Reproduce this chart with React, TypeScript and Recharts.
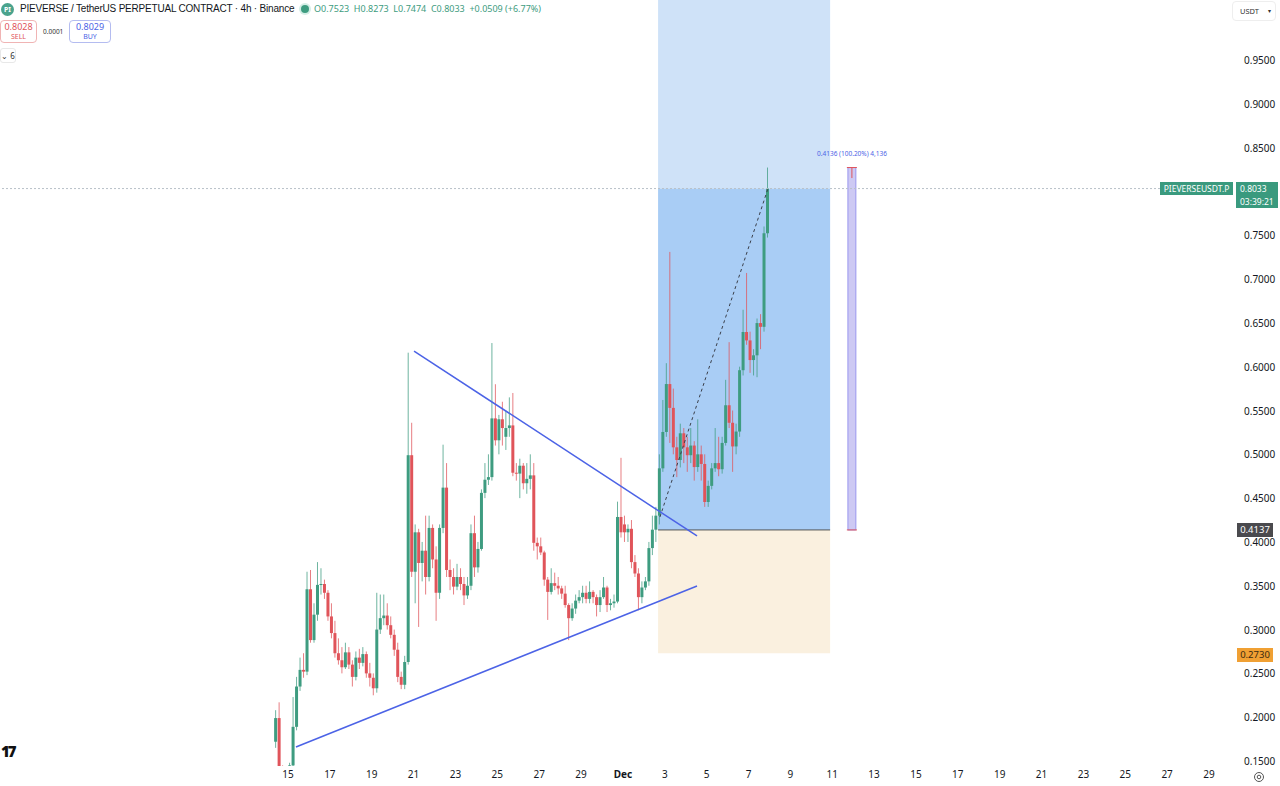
import React from 'react';
import { ComposedChart, Bar, XAxis, YAxis, ReferenceArea, ReferenceLine } from 'recharts';

// 4h candles: open, high, low, close (price in USDT)
const opens = [0.172,0.199,0.14,0.13,0.138,0.145,0.189,0.235,0.254,0.252,0.346,0.288,0.317,0.351,0.352,0.342,0.315,0.296,0.273,0.265,0.257,0.274,0.26,0.246,0.268,0.262,0.272,0.25,0.245,0.233,0.3,0.313,0.316,0.305,0.294,0.277,0.246,0.237,0.263,0.499,0.366,0.411,0.376,0.39,0.36,0.416,0.38,0.342,0.416,0.462,0.368,0.36,0.349,0.36,0.352,0.339,0.35,0.41,0.371,0.392,0.456,0.471,0.474,0.541,0.516,0.54,0.52,0.53,0.533,0.479,0.478,0.487,0.467,0.472,0.476,0.399,0.395,0.388,0.357,0.343,0.353,0.35,0.347,0.341,0.328,0.313,0.324,0.333,0.337,0.342,0.335,0.343,0.337,0.328,0.337,0.348,0.328,0.33,0.332,0.4285,0.42,0.411,0.415,0.377,0.364,0.337,0.348,0.355,0.393,0.414,0.43,0.484,0.5255,0.5802,0.553,0.508,0.4935,0.524,0.508,0.499,0.51,0.4855,0.5,0.489,0.4456,0.464,0.484,0.49,0.483,0.513,0.556,0.536,0.509,0.526,0.596,0.6396,0.63,0.6076,0.613,0.6498,0.6455,0.7523];
const highs = [0.208,0.217,0.145,0.142,0.148,0.223,0.246,0.268,0.273,0.366,0.368,0.33,0.377,0.37,0.357,0.345,0.33,0.31,0.29,0.28,0.285,0.28,0.265,0.275,0.278,0.28,0.275,0.262,0.25,0.342,0.34,0.34,0.33,0.315,0.3,0.285,0.252,0.27,0.616,0.536,0.42,0.415,0.4,0.43,0.43,0.42,0.395,0.42,0.511,0.49,0.38,0.37,0.375,0.37,0.36,0.36,0.42,0.43,0.4,0.46,0.49,0.5,0.627,0.58,0.545,0.56,0.55,0.565,0.57,0.49,0.495,0.49,0.49,0.5,0.49,0.405,0.405,0.39,0.36,0.37,0.365,0.36,0.35,0.35,0.33,0.33,0.34,0.345,0.35,0.35,0.355,0.345,0.34,0.345,0.36,0.35,0.335,0.34,0.446,0.496,0.43,0.42,0.425,0.385,0.37,0.355,0.36,0.4,0.43,0.44,0.5,0.562,0.604,0.731,0.575,0.52,0.535,0.53,0.52,0.53,0.515,0.54,0.51,0.5,0.47,0.49,0.53,0.52,0.52,0.585,0.628,0.55,0.535,0.6,0.665,0.707,0.64,0.62,0.655,0.66,0.76,0.8273];
const lows = [0.165,0.13,0.12,0.12,0.13,0.14,0.185,0.23,0.245,0.248,0.285,0.285,0.31,0.34,0.335,0.31,0.29,0.268,0.26,0.25,0.255,0.255,0.235,0.242,0.255,0.258,0.245,0.235,0.225,0.228,0.295,0.305,0.3,0.29,0.27,0.24,0.232,0.232,0.26,0.36,0.33,0.303,0.355,0.34,0.355,0.37,0.31,0.335,0.41,0.36,0.345,0.34,0.345,0.345,0.328,0.335,0.345,0.36,0.365,0.39,0.45,0.465,0.47,0.51,0.5,0.51,0.505,0.52,0.475,0.47,0.45,0.46,0.455,0.46,0.39,0.38,0.385,0.35,0.311,0.34,0.345,0.34,0.335,0.325,0.288,0.31,0.318,0.33,0.33,0.33,0.33,0.33,0.315,0.32,0.335,0.32,0.322,0.325,0.33,0.405,0.4,0.4,0.37,0.36,0.322,0.33,0.345,0.35,0.385,0.4,0.42,0.48,0.52,0.513,0.5,0.474,0.485,0.49,0.48,0.49,0.47,0.48,0.47,0.44,0.44,0.46,0.48,0.475,0.478,0.51,0.53,0.48,0.5,0.52,0.59,0.625,0.593,0.59,0.588,0.62,0.64,0.7474];
const closes = [0.199,0.14,0.13,0.138,0.145,0.189,0.235,0.254,0.252,0.346,0.288,0.317,0.351,0.352,0.342,0.315,0.296,0.273,0.265,0.257,0.274,0.26,0.246,0.268,0.262,0.272,0.25,0.245,0.233,0.3,0.313,0.316,0.305,0.294,0.277,0.246,0.237,0.263,0.499,0.366,0.411,0.376,0.39,0.36,0.416,0.38,0.342,0.416,0.462,0.368,0.36,0.349,0.36,0.352,0.339,0.35,0.41,0.371,0.392,0.456,0.471,0.474,0.541,0.516,0.54,0.53,0.53,0.533,0.479,0.478,0.487,0.467,0.472,0.476,0.399,0.395,0.388,0.357,0.343,0.353,0.35,0.347,0.341,0.328,0.313,0.324,0.333,0.337,0.342,0.335,0.343,0.337,0.328,0.337,0.348,0.328,0.33,0.332,0.4285,0.411,0.411,0.415,0.377,0.364,0.337,0.348,0.355,0.393,0.414,0.43,0.484,0.5255,0.5802,0.553,0.508,0.4935,0.524,0.508,0.499,0.51,0.4855,0.5,0.489,0.4456,0.464,0.484,0.49,0.483,0.513,0.556,0.536,0.509,0.526,0.596,0.6396,0.63,0.6076,0.613,0.6498,0.6455,0.7523,0.8033];

// time axis: day-of-month counted from Nov 0 (Dec 1 = 31); first candle time and 4h step
const firstCandleDay = 14.42;
const candleStepDays = 1 / 6;

const xTicks = [15,17,19,21,23,25,27,29,31,33,35,37,39,41,43,45,47,49,51,53,55,57,59];
// 0.8000 is hidden behind the last-price label in the reference
const yTicks = [0.15,0.2,0.25,0.3,0.35,0.4,0.45,0.5,0.55,0.6,0.65,0.7,0.75,0.85,0.9,0.95];

// drawings
const entryPrice = 0.4137;
const stopPrice = 0.273;
const targetPrice = 1.0185;
const lastPrice = 0.8033;
const positionStart = 32.68;
const positionEnd = 40.9;
const upperTrend = [{ x: 21.02, y: 0.6179 }, { x: 34.54, y: 0.4068 }];
const lowerTrend = [{ x: 15.38, y: 0.166 }, { x: 34.54, y: 0.3497 }];
const dashedPath = [{ x: 32.77, y: 0.4285 }, { x: 37.93, y: 0.8033 }];
const rangeX = [41.75, 42.13];
const rangeY = [0.4137, 0.8273];

const data = opens.map((o, i) => ({
  t: firstCandleDay + i * candleStepDays,
  open: o, high: highs[i], low: lows[i], close: closes[i],
}));

const UP = '#3e9c80';
const DOWN = '#e0545a';

const Candle = (props: any) => {
  const { x, y, width, height, payload } = props;
  if (!payload || height == null) return null;
  const { open, close, high, low } = payload;
  const k = height / (high - low);
  const yO = y + (high - open) * k;
  const yC = y + (high - close) * k;
  const color = close >= open ? UP : DOWN;
  const cx = x + width / 2;
  const top = Math.min(yO, yC);
  const h = Math.max(1, Math.abs(yO - yC));
  return (
    <g>
      <line x1={cx} x2={cx} y1={y} y2={y + height} stroke={color} strokeWidth={1} opacity={0.75} />
      <rect x={x} y={top} width={width} height={h} fill={color} />
    </g>
  );
};

const XTick = (props: any) => {
  const { x, y, payload } = props;
  const v = payload.value;
  const label = v === 31 ? 'Dec' : v > 31 ? String(v - 30) : String(v);
  return (
    <text x={x} y={y + 10} textAnchor="middle" fontSize={10} fontWeight={v === 31 ? 700 : 400} fill="#131722" fontFamily="'Noto Sans', sans-serif">
      {label}
    </text>
  );
};

const YTick = (props: any) => {
  const { x, y, payload } = props;
  return (
    <text x={x + 10} y={y + 4} textAnchor="start" fontSize={10} fill="#131722" fontFamily="'Noto Sans', sans-serif">
      {payload.value.toFixed(4)}
    </text>
  );
};

const abs = (l: number, t: number, extra: any = {}) => ({ position: 'absolute' as const, left: l, top: t, ...extra });

export default function App() {
  return (
    <div style={{ position: 'absolute', left: 0, top: 0, width: 1280, height: 786, background: '#fff', overflow: 'hidden', fontFamily: "'Noto Sans', sans-serif" }}>
      <ComposedChart width={1280} height={786} data={data} margin={{ top: 0, right: 0, bottom: 0, left: 0 }}>
        <XAxis dataKey="t" type="number" domain={[1.24, 60.1]} allowDataOverflow ticks={xTicks} axisLine={false} tickLine={false} tickSize={0} height={20} tick={<XTick />} interval={0} />
        <YAxis orientation="right" type="number" domain={[0.1443, 1.0185]} allowDataOverflow ticks={yTicks} axisLine={false} tickLine={false} tickSize={0} width={48} tick={<YTick />} interval={0} />
        <ReferenceArea x1={positionStart} x2={positionEnd} y1={lastPrice} y2={targetPrice} fill="#cfe2f8" fillOpacity={1} stroke="none" ifOverflow="hidden" />
        <ReferenceArea x1={positionStart} x2={positionEnd} y1={entryPrice} y2={lastPrice} fill="#a9cdf5" fillOpacity={1} stroke="none" />
        <ReferenceArea x1={positionStart} x2={positionEnd} y1={stopPrice} y2={entryPrice} fill="#faf0df" fillOpacity={1} stroke="none" />
        <ReferenceLine segment={[{ x: positionStart, y: entryPrice }, { x: positionEnd, y: entryPrice }]} stroke="#555" strokeWidth={1} />
        <ReferenceLine y={lastPrice} stroke="#b8c0c8" strokeDasharray="2 2" strokeWidth={1} />
        <Bar dataKey={(d: any) => [d.low, d.high]} barSize={3} shape={<Candle />} isAnimationActive={false} />
        <ReferenceLine segment={upperTrend} stroke="#4c63e6" strokeWidth={1.5} />
        <ReferenceLine segment={lowerTrend} stroke="#4c63e6" strokeWidth={1.5} />
        <ReferenceLine segment={dashedPath} stroke="#3a3f4a" strokeWidth={1} strokeDasharray="3 3" />
        <ReferenceArea x1={rangeX[0]} x2={rangeX[1]} y1={rangeY[0]} y2={rangeY[1]} fill="#cdc9f3" fillOpacity={1} stroke="#9a97ee" strokeWidth={1} />
        <ReferenceLine segment={[{ x: rangeX[0] - 0.05, y: rangeY[1] }, { x: rangeX[1] + 0.05, y: rangeY[1] }]} stroke="#e0545a" strokeWidth={1} />
        <ReferenceLine segment={[{ x: rangeX[0] - 0.05, y: rangeY[0] }, { x: rangeX[1] + 0.05, y: rangeY[0] }]} stroke="#e0545a" strokeWidth={1} />
        <ReferenceLine segment={[{ x: (rangeX[0] + rangeX[1]) / 2, y: rangeY[1] }, { x: (rangeX[0] + rangeX[1]) / 2, y: rangeY[1] - 0.012 }]} stroke="#e0545a" strokeWidth={1} />
      </ComposedChart>

      {/* header */}
      <div style={abs(1, 3, { width: 13, height: 13, borderRadius: 7, background: '#4aa38d', color: '#fff', fontSize: 7, lineHeight: '13px', textAlign: 'center', fontWeight: 700 })}>PI</div>
      <div style={abs(20, 1, { fontSize: 10, letterSpacing: -0.2, fontFamily: "'Liberation Sans', Arial, sans-serif", color: '#131722', whiteSpace: 'nowrap', lineHeight: '16px' })}>PIEVERSE / TetherUS PERPETUAL CONTRACT · 4h · Binance</div>
      <div style={abs(301, 5, { width: 8, height: 8, borderRadius: 4, background: '#3e9c80', boxShadow: '0 0 0 2px #d5eee6' })} />
      <div style={abs(314, 3, { fontSize: 9, color: '#3e9c80', whiteSpace: 'nowrap', lineHeight: '12px' })}>
        O0.7523&nbsp; H0.8273&nbsp; L0.7474&nbsp; C0.8033&nbsp; +0.0509 (+6.77%)
      </div>
      <div style={abs(0, 20, { width: 35, height: 21, border: '1px solid #f0b4b4', borderRadius: 4, textAlign: 'center', color: '#e0545a', lineHeight: '10px', boxSizing: 'content-box' })}>
        <div style={{ fontSize: 9, marginTop: 1 }}>0.8028</div>
        <div style={{ fontSize: 7 }}>SELL</div>
      </div>
      <div style={abs(43, 27, { fontSize: 6.5, color: '#333', lineHeight: '9px' })}>0.0001</div>
      <div style={abs(69, 20, { width: 40, height: 21, border: '1px solid #b4bcf0', borderRadius: 4, textAlign: 'center', color: '#4c63e6', lineHeight: '10px' })}>
        <div style={{ fontSize: 9, marginTop: 1 }}>0.8029</div>
        <div style={{ fontSize: 7 }}>BUY</div>
      </div>
      <div style={abs(0, 48, { width: 14, height: 13, border: '1px solid #e8e8e8', borderRadius: 3, fontSize: 8, color: '#333', lineHeight: '13px', textAlign: 'center' })}>⌄ 6</div>

      {/* top-right currency */}
      <div style={abs(1232, 1, { width: 42, height: 18, border: '1px solid #eee', borderRadius: 4, fontSize: 7.5, color: '#333', lineHeight: '18px' })}>
        <span style={{ marginLeft: 7 }}>USDT</span>
        <span style={{ position: 'absolute', right: 4, top: 0, fontSize: 6 }}>▾</span>
      </div>

      {/* price range label */}
      <div style={abs(792, 149, { width: 120, textAlign: 'center', fontSize: 6.5, color: '#4c63e6', whiteSpace: 'nowrap', lineHeight: '9px' })}>0.4136 (100.20%) 4,136</div>

      {/* price labels on axis */}
      <div style={abs(1160, 182, { width: 73, height: 13, background: '#3a9a7e', color: '#fff', fontSize: 8.5, lineHeight: '13px', textAlign: 'center' })}>PIEVERSEUSDT.P</div>
      <div style={abs(1236, 182, { width: 42, height: 26, background: '#3a9a7e', color: '#fff', fontSize: 8.5, lineHeight: '13px', paddingLeft: 4, boxSizing: 'border-box' })}>
        <div style={{ height: 13 }}>0.8033</div>
        <div style={{ height: 13 }}>03:39:21</div>
      </div>
      <div style={abs(1237, 523, { width: 36, height: 14, background: '#4a4a4e', color: '#fff', fontSize: 9.5, lineHeight: '14px', textAlign: 'center' })}>0.4137</div>
      <div style={abs(1237, 648, { width: 36, height: 14, background: '#f0a033', color: '#3a2a10', fontSize: 9.5, lineHeight: '14px', textAlign: 'center' })}>0.2730</div>

      {/* logo and settings */}
      <div style={abs(0, 742, { fontSize: 15, fontWeight: 900, color: '#111', letterSpacing: -2, lineHeight: '18px', paddingLeft: 1 })}>17</div>
      <svg style={abs(1253, 771)} width={12} height={12}>
        <circle cx={6} cy={6} r={4.5} fill="none" stroke="#555" strokeWidth={1} />
        <circle cx={6} cy={6} r={1.8} fill="none" stroke="#555" strokeWidth={1} />
      </svg>
    </div>
  );
}
